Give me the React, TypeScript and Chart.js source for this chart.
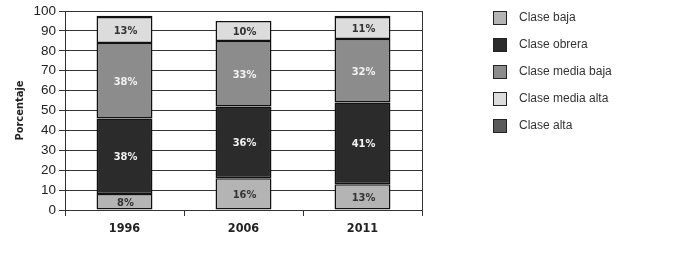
import { useEffect, useRef } from "react";
import { Chart, registerables } from "chart.js";

Chart.register(...registerables);

const years = ["1996", "2006", "2011"];
const seriesNames = ["Clase baja", "Clase obrera", "Clase media baja", "Clase media alta", "Clase alta"];
const claseBaja = [8, 16, 13];
const claseObrera = [38, 36, 41];
const claseMediaBaja = [38, 33, 32];
const claseMediaAlta = [13, 10, 11];
const claseAlta: (number | null)[] = [0.7, null, 0.7];
const yTickValues = [0, 10, 20, 30, 40, 50, 60, 70, 80, 90, 100];

const fills = ["#b4b4b4", "#2b2b2b", "#8c8c8c", "#dcdcdc", "#5a5a5a"];
const labelColors = ["#333333", "#f2f2f2", "#f2f2f2", "#333333"];

const segmentLabels = {
  id: "segmentLabels",
  afterDatasetsDraw(chart: any) {
    const ctx = chart.ctx;
    ctx.save();
    ctx.font = "bold 11px 'DejaVu Sans Condensed', 'DejaVu Sans', sans-serif";
    ctx.textAlign = "center";
    ctx.textBaseline = "middle";
    for (let d = 0; d < 4; d++) {
      const meta = chart.getDatasetMeta(d);
      const data = chart.data.datasets[d].data;
      meta.data.forEach((el: any, i: number) => {
        const v = data[i];
        if (v == null) return;
        ctx.fillStyle = labelColors[d];
        ctx.fillText(v + "%", el.x + 1, (el.y + el.base) / 2 + 1);
      });
    }
    ctx.restore();
  },
};

const frameAndLegend = {
  id: "frameAndLegend",
  afterDraw(chart: any) {
    const ctx = chart.ctx;
    const a = chart.chartArea;
    ctx.save();
    ctx.strokeStyle = "#333333";
    ctx.lineWidth = 1;
    ctx.beginPath();
    ctx.moveTo(Math.round(a.right) + 0.5, a.top);
    ctx.lineTo(Math.round(a.right) + 0.5, a.bottom);
    ctx.stroke();

    const x0 = 493;
    const y0 = 18;
    const step = 27;
    ctx.font = "12px 'Liberation Sans', Arial, sans-serif";
    ctx.textAlign = "left";
    ctx.textBaseline = "middle";
    seriesNames.forEach((name, i) => {
      const cy = y0 + i * step;
      ctx.fillStyle = fills[i];
      ctx.fillRect(x0, cy - 7, 14, 14);
      ctx.strokeStyle = "#222222";
      ctx.lineWidth = 1;
      ctx.strokeRect(x0 + 0.5, cy - 6.5, 13, 13);
      ctx.fillStyle = "#333333";
      ctx.fillText(name, 519, cy);
    });
    ctx.restore();
  },
};

export default function App() {
  const ref = useRef<HTMLCanvasElement | null>(null);
  useEffect(() => {
    document.body.style.margin = "0";
    const canvas = ref.current;
    if (!canvas) return;
    const seriesData = [claseBaja, claseObrera, claseMediaBaja, claseMediaAlta, claseAlta];
    const chart = new Chart(canvas, {
      type: "bar",
      data: {
        labels: years,
        datasets: seriesNames.map((name, i) => ({
          label: name,
          data: seriesData[i] as any,
          backgroundColor: fills[i],
          borderColor: "#111111",
          borderWidth: 1.5,
          borderSkipped: false,
          categoryPercentage: 1,
          barPercentage: 0.47,
        })),
      },
      options: {
        responsive: false,
        animation: false,
        layout: { padding: { left: 1, right: 261, top: 11, bottom: 0 } },
        plugins: {
          legend: { display: false },
          tooltip: { enabled: false },
        },
        scales: {
          x: {
            stacked: true,
            grid: {
              drawOnChartArea: false,
              drawTicks: true,
              tickLength: 6,
              color: "#333333",
              offset: true,
            },
            border: { color: "#333333", width: 1 },
            ticks: {
              color: "#222222",
              padding: 5,
              font: { family: "'DejaVu Sans Condensed', 'DejaVu Sans', sans-serif", size: 12.5, weight: "bold" },
            },
            afterFit: (axis: any) => {
              axis.height = 50;
            },
          },
          y: {
            stacked: true,
            min: 0,
            max: 100,
            afterBuildTicks: (axis: any) => {
              axis.ticks = yTickValues.map((v) => ({ value: v }));
            },
            grid: {
              color: "#333333",
              lineWidth: 1,
              tickLength: 6,
            },
            border: { color: "#333333", width: 1 },
            ticks: {
              color: "#222222",
              padding: 3,
              font: { family: "'Liberation Sans', Arial, sans-serif", size: 13.5 },
            },
            title: {
              display: true,
              text: "Porcentaje",
              color: "#222222",
              padding: { top: 13, bottom: 0 },
              font: { family: "'DejaVu Sans Condensed', 'DejaVu Sans', sans-serif", size: 11, weight: "bold" },
            },
            afterFit: (axis: any) => {
              axis.width = 64;
            },
          },
        },
      },
      plugins: [segmentLabels, frameAndLegend],
    });
    return () => chart.destroy();
  }, []);
  return <canvas ref={ref} width={683} height={260} style={{ display: "block", width: 683, height: 260 }} />;
}
